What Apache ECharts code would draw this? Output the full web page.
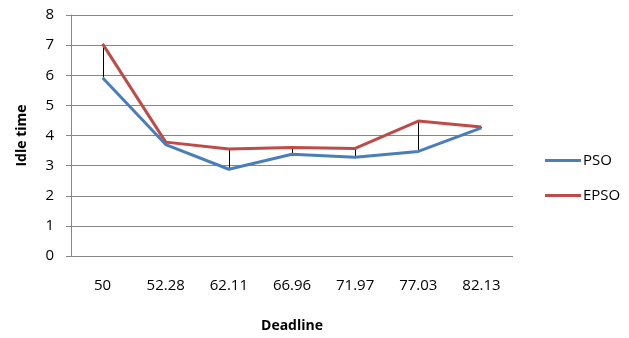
<!DOCTYPE html>
<html>
<head>
<meta charset="utf-8">
<script src="https://cdn.jsdelivr.net/npm/echarts@6/dist/echarts.min.js"></script>
<style>
html,body{margin:0;padding:0;background:#fff;}
#chart{width:629px;height:338px;}
</style>
</head>
<body>
<div id="chart"></div>
<script>
// Deadline values along the x axis
const deadlines = ['50', '52.28', '62.11', '66.96', '71.97', '77.03', '82.13'];
// Idle time per algorithm
const psoIdle = [5.92, 3.7, 2.88, 3.38, 3.28, 3.47, 4.25];
const epsoIdle = [7.04, 3.78, 3.55, 3.6, 3.57, 4.48, 4.28];
const yTicks = [0, 1, 2, 3, 4, 5, 6, 7, 8];

const font = '"Open Sans", "Liberation Sans", sans-serif';

const chart = echarts.init(document.getElementById('chart'), null, {renderer: 'canvas'});

// high-low connectors between the two series at each deadline
const hiLow = deadlines.map((d, i) => [i, psoIdle[i], epsoIdle[i]]);

chart.setOption({
  animation: false,
  grid: {left: 71, right: 116, top: 15, bottom: 81, containLabel: false},
  legend: {
    orient: 'vertical',
    left: 540,
    top: 148,
    itemWidth: 36,
    itemHeight: 3,
    itemGap: 20,
    icon: 'rect',
    textStyle: {fontFamily: font, fontSize: 15, color: '#000', padding: [0, 0, 0, -3]},
    data: ['PSO', 'EPSO']
  },
  xAxis: {
    type: 'category',
    data: deadlines,
    boundaryGap: true,
    name: 'Deadline',
    nameLocation: 'middle',
    nameGap: 63,
    nameTextStyle: {fontFamily: font, fontSize: 14, fontWeight: 'bold', color: '#000'},
    axisLine: {show: false},
    axisTick: {show: false},
    axisLabel: {fontFamily: font, fontSize: 15, color: '#000', margin: 22}
  },
  yAxis: {
    type: 'value',
    min: yTicks[0],
    max: yTicks[yTicks.length - 1],
    interval: 1,
    name: 'Idle time',
    nameLocation: 'middle',
    nameGap: 42,
    nameTextStyle: {fontFamily: font, fontSize: 14, fontWeight: 'bold', color: '#000'},
    axisLine: {show: true, lineStyle: {color: '#868686', width: 1}},
    axisTick: {show: true, length: 5, lineStyle: {color: '#868686'}},
    axisLabel: {fontFamily: font, fontSize: 15, color: '#000', margin: 17},
    splitLine: {show: true, lineStyle: {color: '#868686', width: 1}}
  },
  series: [
    {
      type: 'custom',
      name: 'hilow',
      data: hiLow,
      z: 1,
      renderItem: function (params, api) {
        const a = api.coord([api.value(0), api.value(1)]);
        const b = api.coord([api.value(0), api.value(2)]);
        return {
          type: 'line',
          shape: {x1: Math.round(a[0]) + 0.5, y1: a[1], x2: Math.round(b[0]) + 0.5, y2: b[1]},
          style: {stroke: '#000', lineWidth: 1}
        };
      }
    },
    {
      name: 'PSO',
      type: 'line',
      data: psoIdle,
      symbol: 'none',
      z: 3,
      lineStyle: {color: '#4A7EBB', width: 3},
      itemStyle: {color: '#4A7EBB'}
    },
    {
      name: 'EPSO',
      type: 'line',
      data: epsoIdle,
      symbol: 'none',
      z: 2,
      lineStyle: {color: '#BE4B48', width: 3},
      itemStyle: {color: '#BE4B48'}
    }
  ]
});
</script>
</body>
</html>
